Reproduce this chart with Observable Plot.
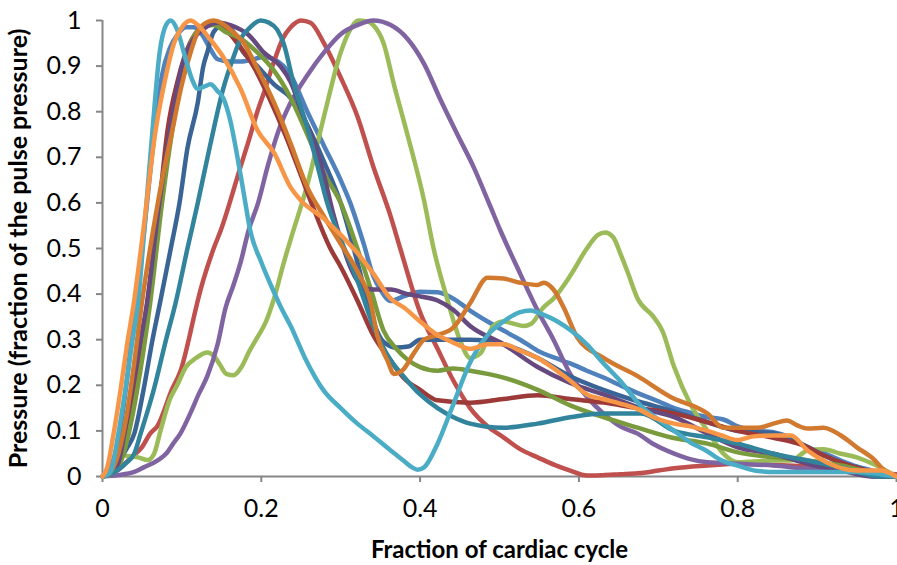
<!DOCTYPE html>
<html><head><meta charset="utf-8">
<script src="https://cdn.jsdelivr.net/npm/d3@7"></script>
<script src="https://cdn.jsdelivr.net/npm/@observablehq/plot@0.6"></script>
<style>
html,body{margin:0;padding:0;background:#fff;}
</style></head><body><div id="chart"></div>
<script>
// Each series: [fraction of cardiac cycle, pressure (fraction of pulse pressure)]
const sBlue = [[0,0],[0.01,0.02],[0.02,0.08],[0.03,0.2],[0.04,0.36],[0.05,0.5],[0.064,0.73],[0.075,0.88],[0.085,0.94],[0.095,0.97],[0.105,0.985],[0.115,0.985],[0.125,0.97],[0.135,0.94],[0.145,0.915],[0.16,0.91],[0.174,0.91],[0.19,0.915],[0.203,0.92],[0.216,0.915],[0.228,0.9],[0.237,0.88],[0.258,0.8],[0.279,0.725],[0.3,0.65],[0.312,0.6],[0.329,0.51],[0.341,0.44],[0.35,0.41],[0.363,0.385],[0.379,0.395],[0.4,0.405],[0.422,0.404],[0.442,0.39],[0.463,0.364],[0.485,0.34],[0.505,0.32],[0.526,0.3],[0.548,0.276],[0.57,0.26],[0.589,0.248],[0.61,0.232],[0.631,0.217],[0.652,0.2],[0.678,0.18],[0.7,0.165],[0.72,0.15],[0.74,0.14],[0.762,0.13],[0.782,0.125],[0.8,0.11],[0.825,0.1],[0.845,0.097],[0.867,0.085],[0.888,0.064],[0.91,0.05],[0.93,0.035],[0.95,0.022],[0.97,0.013],[0.99,0.005],[1,0]];
const sRed = [[0,0],[0.01,0.005],[0.02,0.015],[0.035,0.04],[0.05,0.065],[0.06,0.094],[0.069,0.11],[0.088,0.193],[0.098,0.23],[0.117,0.364],[0.12,0.386],[0.14,0.5],[0.149,0.54],[0.174,0.68],[0.183,0.73],[0.195,0.8],[0.203,0.84],[0.216,0.91],[0.227,0.96],[0.237,0.985],[0.25,1.0],[0.262,0.995],[0.279,0.95],[0.3,0.875],[0.321,0.79],[0.341,0.68],[0.363,0.57],[0.375,0.5],[0.4,0.36],[0.422,0.28],[0.442,0.21],[0.463,0.15],[0.485,0.11],[0.505,0.086],[0.526,0.06],[0.548,0.042],[0.57,0.025],[0.589,0.013],[0.61,0.002],[0.63,0.003],[0.652,0.005],[0.674,0.007],[0.7,0.013],[0.72,0.018],[0.762,0.024],[0.8,0.028],[0.85,0.025],[0.9,0.02],[0.95,0.01],[1,0.005]];
const sGreen = [[0.03,0.045],[0.045,0.042],[0.057,0.036],[0.065,0.05],[0.073,0.1],[0.085,0.17],[0.094,0.2],[0.105,0.24],[0.118,0.26],[0.132,0.272],[0.14,0.265],[0.148,0.245],[0.156,0.225],[0.165,0.222],[0.175,0.24],[0.185,0.275],[0.195,0.305],[0.206,0.34],[0.216,0.39],[0.228,0.467],[0.237,0.52],[0.258,0.64],[0.279,0.79],[0.3,0.93],[0.312,0.98],[0.322,1.0],[0.333,0.998],[0.341,0.99],[0.354,0.95],[0.367,0.86],[0.384,0.75],[0.405,0.605],[0.417,0.5],[0.434,0.39],[0.45,0.3],[0.463,0.26],[0.476,0.27],[0.492,0.33],[0.505,0.34],[0.518,0.335],[0.53,0.33],[0.54,0.335],[0.555,0.37],[0.568,0.39],[0.589,0.44],[0.61,0.5],[0.624,0.53],[0.633,0.535],[0.643,0.525],[0.652,0.49],[0.661,0.45],[0.674,0.39],[0.694,0.35],[0.705,0.32],[0.72,0.24],[0.74,0.16],[0.762,0.1],[0.782,0.05],[0.8,0.031],[0.82,0.033],[0.845,0.035],[0.867,0.035],[0.888,0.057],[0.908,0.06],[0.93,0.05],[0.95,0.042],[0.97,0.028],[0.99,0.01],[1,0]];
const sPurple = [[0,0],[0.02,0.003],[0.04,0.01],[0.052,0.02],[0.069,0.035],[0.08,0.05],[0.089,0.072],[0.098,0.094],[0.111,0.14],[0.121,0.18],[0.132,0.22],[0.145,0.29],[0.155,0.37],[0.165,0.42],[0.174,0.47],[0.184,0.54],[0.196,0.6],[0.208,0.68],[0.222,0.76],[0.237,0.82],[0.258,0.88],[0.279,0.93],[0.3,0.97],[0.321,0.99],[0.341,1.0],[0.363,0.99],[0.384,0.96],[0.405,0.905],[0.426,0.825],[0.447,0.75],[0.467,0.68],[0.489,0.59],[0.501,0.54],[0.526,0.445],[0.548,0.364],[0.568,0.3],[0.589,0.225],[0.61,0.175],[0.631,0.138],[0.652,0.11],[0.674,0.094],[0.695,0.07],[0.72,0.05],[0.74,0.038],[0.762,0.031],[0.8,0.028],[0.845,0.024],[0.888,0.017],[0.93,0.013],[0.96,0.005],[0.97,0],[1,0]];
const sCyan = [[0,0],[0.01,0.01],[0.02,0.094],[0.029,0.193],[0.037,0.29],[0.045,0.386],[0.054,0.57],[0.063,0.76],[0.072,0.93],[0.08,0.99],[0.086,1.0],[0.094,0.98],[0.104,0.92],[0.113,0.87],[0.12,0.85],[0.128,0.855],[0.136,0.86],[0.145,0.845],[0.152,0.83],[0.161,0.78],[0.17,0.7],[0.178,0.62],[0.186,0.54],[0.2,0.47],[0.212,0.42],[0.225,0.37],[0.237,0.33],[0.255,0.26],[0.278,0.19],[0.3,0.15],[0.321,0.116],[0.34,0.09],[0.363,0.057],[0.379,0.035],[0.39,0.02],[0.397,0.015],[0.405,0.02],[0.422,0.072],[0.44,0.15],[0.463,0.25],[0.485,0.31],[0.505,0.34],[0.525,0.36],[0.539,0.364],[0.555,0.355],[0.573,0.34],[0.59,0.32],[0.61,0.29],[0.63,0.25],[0.652,0.21],[0.678,0.155],[0.7,0.125],[0.72,0.1],[0.74,0.075],[0.76,0.057],[0.78,0.035],[0.8,0.024],[0.825,0.012],[0.85,0.01],[0.9,0.01],[0.95,0.01],[0.98,0.005],[1,0]];
const sOrange = [[0,0],[0.006,0.02],[0.014,0.094],[0.023,0.193],[0.031,0.29],[0.039,0.375],[0.05,0.52],[0.067,0.76],[0.08,0.88],[0.09,0.95],[0.1,0.985],[0.111,1.0],[0.12,0.99],[0.135,0.96],[0.152,0.92],[0.174,0.85],[0.195,0.76],[0.216,0.71],[0.237,0.634],[0.25,0.605],[0.279,0.565],[0.3,0.53],[0.321,0.49],[0.341,0.445],[0.363,0.39],[0.38,0.37],[0.4,0.34],[0.422,0.31],[0.44,0.295],[0.463,0.28],[0.485,0.29],[0.505,0.29],[0.526,0.276],[0.548,0.26],[0.57,0.235],[0.589,0.21],[0.61,0.18],[0.63,0.17],[0.652,0.16],[0.678,0.145],[0.694,0.13],[0.72,0.116],[0.74,0.11],[0.762,0.1],[0.78,0.09],[0.8,0.08],[0.82,0.088],[0.845,0.09],[0.867,0.09],[0.888,0.057],[0.913,0.03],[0.95,0.013],[0.98,0.013],[1,0]];
const sDarkBlue = [[0,0],[0.01,0.01],[0.02,0.03],[0.03,0.06],[0.04,0.094],[0.052,0.193],[0.063,0.3],[0.073,0.386],[0.086,0.5],[0.097,0.6],[0.107,0.72],[0.12,0.82],[0.127,0.9],[0.132,0.93],[0.14,0.975],[0.152,0.99],[0.165,0.975],[0.174,0.94],[0.195,0.9],[0.216,0.86],[0.237,0.83],[0.258,0.77],[0.279,0.69],[0.3,0.6],[0.321,0.47],[0.341,0.34],[0.354,0.295],[0.37,0.283],[0.385,0.285],[0.4,0.3],[0.422,0.3],[0.463,0.3],[0.505,0.29],[0.548,0.26],[0.589,0.22],[0.631,0.19],[0.674,0.165],[0.715,0.145],[0.76,0.12],[0.8,0.1],[0.845,0.095],[0.87,0.08],[0.888,0.065],[0.91,0.045],[0.93,0.03],[0.96,0.015],[0.98,0.005],[1,0]];
const sDarkRed = [[0,0],[0.01,0.01],[0.02,0.04],[0.03,0.1],[0.04,0.2],[0.05,0.3],[0.058,0.4],[0.07,0.57],[0.082,0.76],[0.095,0.87],[0.11,0.95],[0.125,0.985],[0.14,0.995],[0.155,0.98],[0.17,0.95],[0.19,0.9],[0.21,0.83],[0.23,0.75],[0.25,0.66],[0.262,0.605],[0.287,0.5],[0.3,0.46],[0.321,0.386],[0.341,0.31],[0.363,0.254],[0.38,0.215],[0.4,0.19],[0.422,0.167],[0.463,0.162],[0.505,0.17],[0.548,0.178],[0.589,0.17],[0.631,0.162],[0.674,0.15],[0.715,0.14],[0.76,0.12],[0.8,0.1],[0.845,0.085],[0.88,0.07],[0.91,0.045],[0.94,0.025],[0.97,0.01],[1,0]];
const sOlive = [[0,0],[0.01,0.005],[0.02,0.02],[0.033,0.094],[0.044,0.193],[0.06,0.38],[0.075,0.6],[0.088,0.76],[0.1,0.88],[0.111,0.95],[0.125,0.985],[0.14,0.99],[0.155,0.975],[0.174,0.96],[0.195,0.93],[0.216,0.89],[0.237,0.83],[0.258,0.75],[0.279,0.665],[0.3,0.6],[0.321,0.5],[0.338,0.41],[0.354,0.32],[0.37,0.28],[0.385,0.255],[0.4,0.24],[0.422,0.232],[0.442,0.237],[0.463,0.232],[0.505,0.217],[0.548,0.19],[0.589,0.156],[0.631,0.13],[0.674,0.107],[0.715,0.086],[0.762,0.072],[0.8,0.053],[0.845,0.042],[0.888,0.035],[0.93,0.024],[0.96,0.012],[0.99,0],[1,0]];
const sDarkPurple = [[0,0],[0.01,0.008],[0.02,0.03],[0.028,0.1],[0.037,0.19],[0.047,0.29],[0.056,0.38],[0.07,0.58],[0.085,0.76],[0.1,0.9],[0.115,0.96],[0.13,0.985],[0.145,0.995],[0.161,0.99],[0.174,0.98],[0.183,0.97],[0.203,0.93],[0.224,0.9],[0.237,0.865],[0.253,0.79],[0.265,0.74],[0.279,0.66],[0.29,0.58],[0.3,0.52],[0.312,0.46],[0.329,0.415],[0.341,0.41],[0.363,0.41],[0.384,0.4],[0.4,0.395],[0.422,0.386],[0.442,0.365],[0.463,0.33],[0.505,0.29],[0.548,0.24],[0.589,0.205],[0.631,0.18],[0.678,0.15],[0.72,0.13],[0.762,0.094],[0.8,0.064],[0.845,0.05],[0.888,0.028],[0.93,0.013],[0.97,0],[1,0]];
const sTeal = [[0,0],[0.01,0.005],[0.02,0.015],[0.03,0.03],[0.04,0.05],[0.048,0.094],[0.065,0.193],[0.08,0.3],[0.092,0.38],[0.107,0.5],[0.12,0.6],[0.136,0.73],[0.152,0.85],[0.165,0.92],[0.174,0.96],[0.186,0.985],[0.199,1.0],[0.21,0.995],[0.22,0.98],[0.228,0.95],[0.241,0.86],[0.258,0.765],[0.271,0.68],[0.283,0.6],[0.3,0.52],[0.321,0.43],[0.341,0.33],[0.363,0.255],[0.379,0.22],[0.4,0.18],[0.422,0.15],[0.442,0.13],[0.463,0.116],[0.505,0.107],[0.548,0.116],[0.589,0.13],[0.631,0.138],[0.678,0.138],[0.72,0.1],[0.762,0.086],[0.8,0.072],[0.845,0.05],[0.888,0.035],[0.93,0.02],[0.98,0],[1,0]];
const sBrown = [[0,0],[0.01,0.01],[0.02,0.05],[0.03,0.13],[0.04,0.25],[0.05,0.386],[0.06,0.5],[0.075,0.65],[0.088,0.76],[0.1,0.86],[0.111,0.93],[0.123,0.985],[0.14,1.0],[0.161,0.98],[0.178,0.95],[0.195,0.895],[0.216,0.82],[0.228,0.77],[0.237,0.73],[0.258,0.634],[0.279,0.57],[0.3,0.51],[0.321,0.45],[0.338,0.38],[0.346,0.31],[0.359,0.254],[0.367,0.225],[0.379,0.235],[0.392,0.27],[0.405,0.3],[0.422,0.31],[0.442,0.327],[0.463,0.38],[0.485,0.436],[0.505,0.434],[0.526,0.425],[0.548,0.42],[0.556,0.425],[0.568,0.41],[0.581,0.37],[0.598,0.305],[0.631,0.26],[0.674,0.22],[0.715,0.175],[0.762,0.138],[0.782,0.107],[0.8,0.107],[0.825,0.107],[0.845,0.116],[0.862,0.123],[0.875,0.112],[0.888,0.105],[0.908,0.107],[0.93,0.09],[0.95,0.064],[0.97,0.04],[0.985,0.013],[1,0]];

const seriesNames = ["Blue","Red","Green","Purple","Dark blue","Dark red","Olive","Dark purple","Teal","Brown","Cyan","Orange"];
const seriesValues = [sBlue,sRed,sGreen,sPurple,sDarkBlue,sDarkRed,sOlive,sDarkPurple,sTeal,sBrown,sCyan,sOrange];
const seriesColors = ["#4f81bd","#c0504d","#9bbb59","#8064a2","#3a6496","#9b3a38","#7a9a3e","#65497f","#31849b","#d1792f","#4bacc6","#f79646"];

const xTicks = [0,0.2,0.4,0.6,0.8,1];
const yTicks = [0,0.1,0.2,0.3,0.4,0.5,0.6,0.7,0.8,0.9,1];
const xTitle = "Fraction of cardiac cycle";
const yTitle = "Pressure (fraction of the pulse pressure)";

const rows = [];
seriesValues.forEach((s,i) => s.forEach(([x,y]) => rows.push({series: seriesNames[i], x, y})));

const fmt = d => String(+d.toFixed(1));
const grey = "#868686";

const chart = Plot.plot({
  width: 897, height: 565,
  marginLeft: 102, marginRight: 1, marginTop: 20, marginBottom: 89,
  style: {fontFamily: "Lato, 'Open Sans', sans-serif", background: "#fff", color: "#000"},
  x: {domain: [0,1]},
  y: {domain: [0,1]},
  color: {domain: seriesNames, range: seriesColors},
  marks: [
    Plot.axisY({ticks: yTicks, tickSize: 6, tickPadding: 15, stroke: grey, strokeWidth: 2, fontSize: 25, tickFormat: fmt, label: null}),
    Plot.axisX({ticks: xTicks, tickSize: 6, tickPadding: 17, stroke: grey, strokeWidth: 2, fontSize: 25, tickFormat: fmt, label: null}),
    Plot.ruleX([0], {stroke: grey, strokeWidth: 2}),
    Plot.ruleY([0], {stroke: grey, strokeWidth: 2}),
    Plot.line(rows, {x: "x", y: "y", z: "series", stroke: "series", strokeWidth: 4.5, curve: "monotone-x", strokeLinejoin: "round", strokeLinecap: "round"}),
    Plot.text([yTitle], {frameAnchor: "left", textAnchor: "middle", dx: -84, rotate: -90, fontWeight: "bold", fontSize: 25, fill: "#000"}),
    Plot.text([xTitle], {frameAnchor: "bottom", textAnchor: "middle", dy: 81, fontWeight: "bold", fontSize: 24, fill: "#000"})
  ]
});
document.getElementById("chart").appendChild(chart);
</script></body></html>
